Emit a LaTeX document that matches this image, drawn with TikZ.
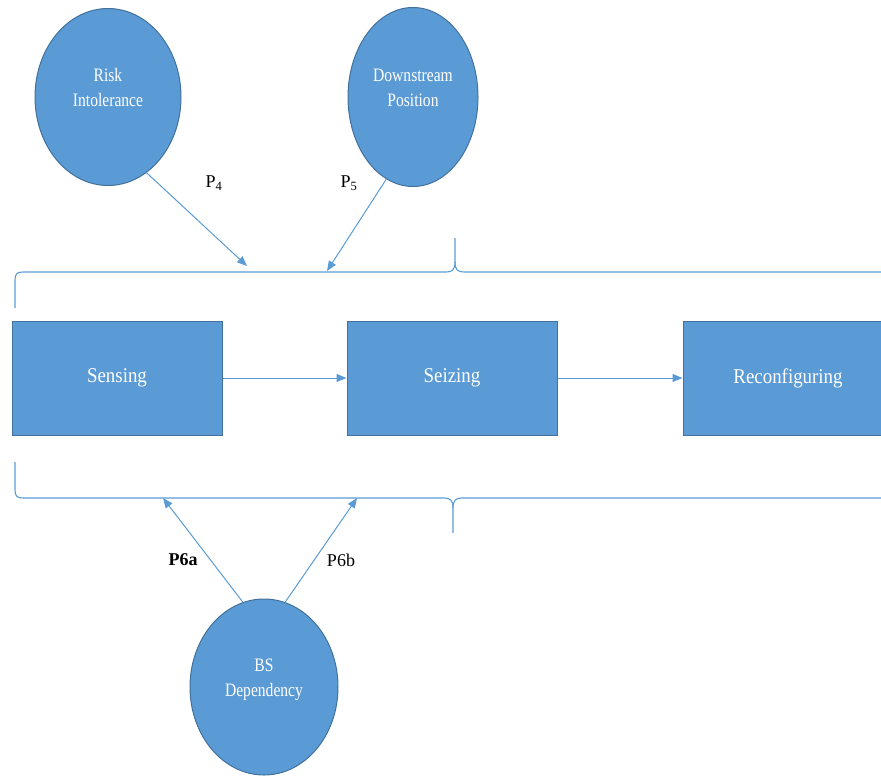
\documentclass[tikz,border=0pt]{standalone}
\usepackage{fontspec}
\setmainfont{Liberation Serif}
\newfontfamily\condA[FakeStretch=0.82]{Liberation Serif}
\newfontfamily\condB[FakeStretch=0.9]{Liberation Serif}
\usetikzlibrary{shapes.geometric,arrows.meta}
\definecolor{fillblue}{HTML}{5B9BD5}
\definecolor{edgeblue}{HTML}{41719C}
\definecolor{lineblue}{HTML}{5B9BD5}
\begin{document}
\begin{tikzpicture}[x=1pt,y=-1pt,
  oval/.style={ellipse, draw=edgeblue, fill=fillblue, line width=1pt, inner sep=0pt},
  stagebox/.style={rectangle, draw=edgeblue, fill=fillblue, line width=1pt,
    minimum width=210pt, minimum height=114pt, inner sep=0pt,
    text=white, font=\condB\fontsize{21}{25}\selectfont},
  ovaltext/.style={text=white, align=center, inner sep=0pt,
    font=\condA\fontsize{19}{25}\selectfont},
  conn/.style={draw=lineblue, line width=1pt, -{Triangle[length=10pt,width=8pt]}},
  bracestroke/.style={draw=lineblue, line width=1.1pt},
  plabel/.style={inner sep=0pt, font=\fontsize{18}{20}\selectfont}
]
\useasboundingbox (0,0) rectangle (881,776);
\clip (0,0) rectangle (881,776);

% ellipses
\node[oval, minimum width=146pt, minimum height=177pt] (risk) at (108,97) {};
\node[ovaltext] (risktext) at (108,88) {Risk\\Intolerance};
\node[oval, minimum width=130pt, minimum height=179pt] (down) at (413,97) {};
\node[ovaltext] (downtext) at (413,88) {Downstream\\Position};
\node[oval, minimum width=148pt, minimum height=176pt] (bs) at (264,687) {};
\node[ovaltext] (bstext) at (264,680) {BS\\Dependency};

% stage boxes
\node[stagebox] (sense) at (117,378) {Sensing};
\node[stagebox] (seize) at (452,378) {Seizing};
\node[stagebox] (reconf) at (788,378) {Reconfiguring};

\draw[conn] (sense.east) -- (seize.west);
\draw[conn] (seize.east) -- (reconf.west);

% top brace
\draw[bracestroke] (15,308) -- (15,280) .. controls (15,274) and (17,272) .. (23,272)
  -- (446,272) .. controls (452,272) and (455,270) .. (455,262) -- (455,238);
\draw[bracestroke] (455,262) .. controls (455,270) and (458,272) .. (464,272) -- (890,272);

% bottom brace
\draw[bracestroke] (15,462) -- (15,490) .. controls (15,496) and (17,498) .. (23,498)
  -- (444,498) .. controls (450,498) and (453,500) .. (453,508) -- (453,533);
\draw[bracestroke] (453,508) .. controls (453,500) and (456,498) .. (462,498) -- (890,498);

% arrow tips on braces
\coordinate (p4tip) at (247,266);
\coordinate (p5tip) at (327,271);
\coordinate (p6atip) at (163,498);
\coordinate (p6btip) at (357,498);

\draw[conn] (risk.-63) -- (p4tip);
\draw[conn] (down.-108) -- (p5tip);
\draw[conn] (bs.104) -- (p6atip);
\draw[conn] (bs.76) -- (p6btip);

% labels
\node[plabel] (p4) at (214,183) {P\textsubscript{4}};
\node[plabel] (p5) at (349,183) {P\textsubscript{5}};
\node[plabel] (p6a) at (183,560) {\textbf{P6a}};
\node[plabel] (p6b) at (341,560) {P6b};
\end{tikzpicture}
\end{document}
